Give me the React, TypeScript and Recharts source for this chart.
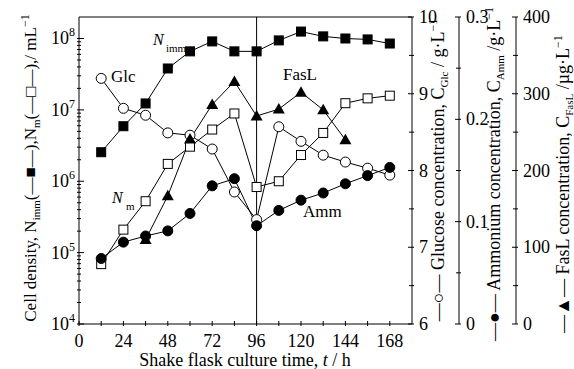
import React from "react";
import { ComposedChart, Line, XAxis, YAxis, ReferenceLine } from "recharts";

const hours = [12, 24, 36, 48, 60, 72, 84, 96, 108, 120, 132, 144, 156, 168];
const immobilized = [2.55e6, 5.9e6, 1.23e7, 3.8e7, 6.6e7, 9.1e7, 6.6e7, 6.6e7, 9.4e7, 1.25e8, 1.07e8, 1.0e8, 9.7e7, 8.5e7];
const suspended = [6.9e4, 2.1e5, 5.25e5, 1.75e6, 3.05e6, 5.3e6, 8.9e6, 8.3e5, 1.0e6, 2.33e6, 4.75e6, 1.24e7, 1.45e7, 1.58e7];
const glucose = [9.2, 8.81, 8.72, 8.49, 8.46, 8.28, 7.72, 7.36, 8.57, 8.38, 8.2, 8.11, 8.03, 7.94];
const ammonium = [0.064, 0.08, 0.086, 0.091, 0.108, 0.135, 0.142, 0.096, 0.111, 0.121, 0.128, 0.137, 0.145, 0.153];
const fasl = [null, null, 110, 167, 241, 286, 316, 271, 280, 302, 279, 240, null, null];

const timeTicks = [0, 12, 24, 36, 48, 60, 72, 84, 96, 108, 120, 132, 144, 156, 168];
const decades = [1e4, 1e5, 1e6, 1e7, 1e8];
const cellTicks = decades.flatMap((d) => (d === 1e8 ? [d] : [1, 2, 3, 4, 5, 6, 7, 8, 9].map((m) => m * d)));
const glucoseTicks = [6, 6.5, 7, 7.5, 8, 8.5, 9, 9.5, 10];
const ammoniumTicks = [0, 0.05, 0.1, 0.15, 0.2, 0.25, 0.3];
const faslTicks = [0, 50, 100, 150, 200, 250, 300, 350, 400];

const data = hours.map((t, i) => ({
  t,
  imm: immobilized[i],
  sus: suspended[i],
  glc: glucose[i],
  amm: ammonium[i],
  fasl: fasl[i],
}));

const FONT = "'Liberation Serif', 'Times New Roman', serif";
const INK = "#000";

const TimeTick = ({ x, y, payload }: any) => (
  <g>
    <line x1={x} x2={x} y1={y} y2={y - 5} stroke={INK} />
    {payload.value % 24 === 0 && (
      <text x={x} y={y + 21} textAnchor="middle" fontSize={18} fontFamily={FONT} fill={INK}>
        {payload.value}
      </text>
    )}
  </g>
);

const CellTick = ({ x, y, payload }: any) => {
  const exp = Math.log10(payload.value);
  const major = Math.abs(exp - Math.round(exp)) < 1e-6;
  return (
    <g>
      <line x1={x} x2={x + (major ? 7 : 4)} y1={y} y2={y} stroke={INK} />
      {major && (
        <text x={x - 2} y={y + 6} textAnchor="end" fontSize={18} fontFamily={FONT} fill={INK}>
          10
          <tspan fontSize={12} dy={-8}>{Math.round(exp)}</tspan>
        </text>
      )}
    </g>
  );
};

const rightTick = (labels: Record<string, string>) => ({ x, y, payload }: any) => {
  const label = labels[String(payload.value)];
  return (
    <g>
      <line x1={x} x2={x - (label ? 6 : 5)} y1={y} y2={y} stroke={INK} />
      {label && (
        <text x={x + 5} y={y + 6} textAnchor="start" fontSize={18} fontFamily={FONT} fill={INK}>
          {label}
        </text>
      )}
    </g>
  );
};

const GlucoseTick = rightTick({ "6": "6", "7": "7", "8": "8", "9": "9", "10": "10" });
const AmmoniumTick = rightTick({ "0": "0", "0.1": "0.1", "0.2": "0.2", "0.3": "0.3" });
const FaslTick = rightTick({ "0": "0", "100": "100", "200": "200", "300": "300", "400": "400" });

const square = (filled: boolean) => (p: any) => {
  if (p.cx == null || p.cy == null || p.value == null) return <g key={p.index} />;
  return (
    <rect key={p.index} x={p.cx - 4.5} y={p.cy - 4.5} width={9} height={9}
      fill={filled ? INK : "#fff"} stroke={INK} strokeWidth={1} />
  );
};

const circle = (filled: boolean) => (p: any) => {
  if (p.cx == null || p.cy == null || p.value == null) return <g key={p.index} />;
  return <circle key={p.index} cx={p.cx} cy={p.cy} r={5} fill={filled ? INK : "#fff"} stroke={INK} strokeWidth={1} />;
};

const triangle = (p: any) => {
  if (p.cx == null || p.cy == null || p.value == null) return <g key={p.index} />;
  const { cx, cy } = p;
  return <polygon key={p.index} points={`${cx},${cy - 6} ${cx - 6},${cy + 4.5} ${cx + 6},${cy + 4.5}`} fill={INK} />;
};

function Annotations() {
  const t = { fontFamily: FONT, fill: INK };
  return (
    <svg width={574} height={369} style={{ position: "absolute", left: 0, top: 0, pointerEvents: "none" }}>
      <text {...t} fontSize={17} x={111} y={82}>Glc</text>
      <text {...t} fontSize={17} x={283} y={80}>FasL</text>
      <text {...t} fontSize={17} x={303} y={217}>Amm</text>
      <text {...t} fontSize={16} x={153} y={45} fontStyle="italic">N</text>
      <text {...t} fontSize={11} x={166} y={52}>imm</text>
      <text {...t} fontSize={16} x={112} y={203} fontStyle="italic">N</text>
      <text {...t} fontSize={11} x={126} y={210}>m</text>

      <text {...t} fontSize={18} x={245} y={366} textAnchor="middle">
        Shake flask culture time, <tspan fontStyle="italic">t</tspan> / h
      </text>

      <text {...t} fontSize={17} transform="translate(36,168) rotate(-90)" textAnchor="middle">
        Cell density, N<tspan fontSize={11} dy={4}>imm</tspan>
        <tspan dy={-4}>(—■—),N</tspan>
        <tspan fontSize={11} dy={4}>m</tspan>
        <tspan dy={-4}>(—□—),/ mL</tspan>
        <tspan fontSize={12} dy={-7}>−1</tspan>
      </text>

      <text {...t} fontSize={18} transform="translate(444,170) rotate(-90)" textAnchor="middle">
        —○— Glucose concentration, C<tspan fontSize={11} dy={4}>Glc</tspan>
        <tspan dy={-4}> /  g·L</tspan>
        <tspan fontSize={12} dy={-7}>−1</tspan>
      </text>

      <text {...t} fontSize={18} transform="translate(500,174) rotate(-90)" textAnchor="middle">
        —●— Ammonium concentration, C<tspan fontSize={11} dy={4}>Amm</tspan>
        <tspan dy={-4}> /g·L</tspan>
        <tspan fontSize={12} dy={-7}>−1</tspan>
      </text>

      <text {...t} fontSize={18} transform="translate(569,184) rotate(-90)" textAnchor="middle">
        —▲— FasL concentration, C<tspan fontSize={11} dy={4}>FasL</tspan>
        <tspan dy={-4}> /µg·L</tspan>
        <tspan fontSize={12} dy={-7}>−1</tspan>
      </text>
    </svg>
  );
}

export default function App() {
  return (
    <div style={{ position: "absolute", left: 0, top: 0, width: 574, height: 369, background: "#fff" }}>
      <ComposedChart width={574} height={369} data={data} margin={{ top: 17, right: 0, bottom: 0, left: 0 }}>
        <XAxis dataKey="t" type="number" domain={[0, 180]} ticks={timeTicks} interval={0}
          tickSize={0} tickLine={false} tick={<TimeTick />} height={45} axisLine={{ stroke: INK }} />
        <YAxis yAxisId="cell" orientation="left" scale="log" domain={[1e4, 2e8]} allowDataOverflow
          ticks={cellTicks} interval={0} tickSize={0} tickLine={false} tick={<CellTick />} width={79}
          axisLine={{ stroke: INK }} />
        <YAxis yAxisId="r1glc" orientation="right" domain={[6, 10]} ticks={glucoseTicks} interval={0}
          tickSize={0} tickLine={false} tick={<GlucoseTick />} width={47} axisLine={{ stroke: INK }} />
        <YAxis yAxisId="r2amm" orientation="right" domain={[0, 0.3]} ticks={ammoniumTicks} interval={0}
          tickSize={0} tickLine={false} tick={<AmmoniumTick />} width={57} axisLine={{ stroke: INK }} />
        <YAxis yAxisId="r3fasl" orientation="right" domain={[0, 400]} ticks={faslTicks} interval={0}
          tickSize={0} tickLine={false} tick={<FaslTick />} width={58} axisLine={{ stroke: INK }} />

        <ReferenceLine yAxisId="cell" y={2e8} stroke={INK} strokeWidth={1} />
        <ReferenceLine yAxisId="cell" x={96} stroke={INK} strokeWidth={1} />

        <Line yAxisId="cell" dataKey="imm" stroke={INK} strokeWidth={1} dot={square(true)} isAnimationActive={false} />
        <Line yAxisId="cell" dataKey="sus" stroke={INK} strokeWidth={1} dot={square(false)} isAnimationActive={false} />
        <Line yAxisId="r1glc" dataKey="glc" stroke={INK} strokeWidth={1} dot={circle(false)} isAnimationActive={false} />
        <Line yAxisId="r2amm" dataKey="amm" stroke={INK} strokeWidth={1} dot={circle(true)} isAnimationActive={false} />
        <Line yAxisId="r3fasl" dataKey="fasl" stroke={INK} strokeWidth={1} dot={triangle} isAnimationActive={false} />
      </ComposedChart>
      <Annotations />
    </div>
  );
}
